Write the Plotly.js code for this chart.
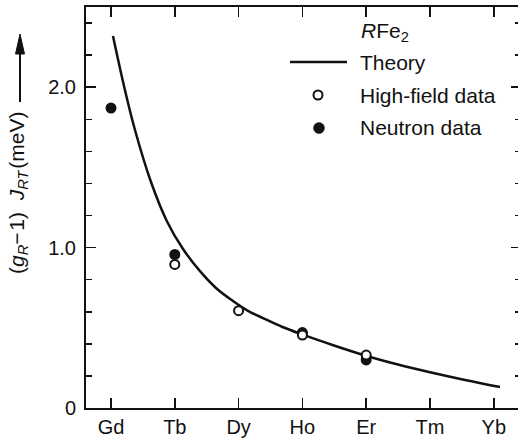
<!DOCTYPE html>
<html>
<head>
<meta charset="utf-8">
<script src="https://cdn.plot.ly/plotly-3.0.1.min.js"></script>
<style>
html, body { margin: 0; padding: 0; overflow: hidden; background: #fff; }
#chart { width: 521px; height: 439px; }
</style>
</head>
<body>
<div id="chart"></div>
<script>
// Categories (rare-earth elements R in RFe2)
const categories = ['Gd', 'Tb', 'Dy', 'Ho', 'Er', 'Tm', 'Yb'];

// Theory curve (x in category index units)
const theoryX = [0.031, 0.204, 0.376, 0.627, 0.878, 1.129, 1.395, 1.654, 1.912, 2.147, 2.382, 2.688, 2.994, 3.495, 3.997, 4.498, 5.0, 5.549, 6.097];
const theoryY = [2.319, 2.007, 1.733, 1.409, 1.163, 0.991, 0.853, 0.745, 0.667, 0.606, 0.561, 0.505, 0.459, 0.390, 0.326, 0.271, 0.223, 0.175, 0.131];

// High-field data (open circles)
const highFieldR = ['Tb', 'Dy', 'Ho', 'Er'];
const highFieldY = [0.895, 0.607, 0.455, 0.33];

// Neutron data (filled circles)
const neutronR = ['Gd', 'Tb', 'Ho', 'Er'];
const neutronY = [1.87, 0.957, 0.47, 0.30];

// y tick labels
const yTickVals = [0, 1, 2];
const yTickText = ['0', '1.0', '2.0'];

const idx = r => categories.indexOf(r);

// pixel -> paper helpers for the plot area (left 86, right 521, top 7, bottom 408)
const L = 86, R = 521, T = 7, B = 408;
const px = x => (x - L) / (R - L);
const py = y => (B - y) / (B - T);

const FONT = 'Liberation Sans, Arial, Helvetica, sans-serif';
const INK = '#111111';

const traces = [
  {
    x: theoryX, y: theoryY, type: 'scatter', mode: 'lines',
    line: { color: INK, width: 2.5, shape: 'spline', smoothing: 1 },
    name: 'Theory', hoverinfo: 'skip'
  },
  {
    x: neutronR.map(idx), y: neutronY, type: 'scatter', mode: 'markers',
    marker: { symbol: 'circle', size: 11, color: INK, line: { width: 0 } },
    name: 'Neutron data'
  },
  {
    x: highFieldR.map(idx), y: highFieldY, type: 'scatter', mode: 'markers',
    marker: { symbol: 'circle', size: 9, color: '#ffffff', line: { color: INK, width: 2 } },
    name: 'High-field data'
  }
];

const legendTextFont = { family: FONT, size: 21, color: INK };

const layout = {
  width: 521, height: 439,
  margin: { l: L, r: 0, t: T, b: 439 - B, pad: 0 },
  paper_bgcolor: '#ffffff', plot_bgcolor: '#ffffff',
  showlegend: false,
  font: { family: FONT, size: 20, color: INK },
  xaxis: {
    range: [(L - 111) / 63.8, (R - 111) / 63.8],
    tickvals: categories.map((c, i) => i),
    ticktext: categories,
    ticks: 'inside', ticklen: 10, tickwidth: 1.5, tickcolor: INK,
    showline: true, linewidth: 2, linecolor: INK, mirror: 'allticks',
    showgrid: false, zeroline: false,
    tickfont: { family: FONT, size: 20, color: INK },
    fixedrange: true
  },
  yaxis: {
    range: [0, 2.5],
    tickvals: yTickVals, ticktext: yTickText,
    ticks: 'inside', ticklen: 10, tickwidth: 1.5, tickcolor: INK,
    minor: { dtick: 0.2, tick0: 0, ticks: 'inside', ticklen: 6, tickwidth: 1.5, tickcolor: INK, showgrid: false },
    showline: true, linewidth: 2, linecolor: INK, mirror: 'allticks',
    showgrid: false, zeroline: false,
    tickfont: { family: FONT, size: 20, color: INK },
    ticklabelstandoff: 4,
    fixedrange: true
  },
  annotations: [
    {
      xref: 'paper', yref: 'paper', x: px(18), y: py(193),
      text: '(<i>g</i><sub><i>R</i></sub>\u2212\u200a1)\u00a0\u00a0<i>J</i><sub><i>RT</i></sub>\u200a(meV)',
      textangle: -90, showarrow: false, xanchor: 'center', yanchor: 'middle',
      font: { family: FONT, size: 21, color: INK }
    },
    {
      xref: 'paper', yref: 'paper', x: px(359), y: py(32),
      text: '<i>R</i>Fe<sub>2</sub>', showarrow: false, xanchor: 'left', yanchor: 'middle',
      font: legendTextFont
    },
    {
      xref: 'paper', yref: 'paper', x: px(358), y: py(62),
      text: 'Theory', showarrow: false, xanchor: 'left', yanchor: 'middle',
      font: legendTextFont
    },
    {
      xref: 'paper', yref: 'paper', x: px(358), y: py(95),
      text: 'High-field data', showarrow: false, xanchor: 'left', yanchor: 'middle',
      font: legendTextFont
    },
    {
      xref: 'paper', yref: 'paper', x: px(358), y: py(128),
      text: 'Neutron data', showarrow: false, xanchor: 'left', yanchor: 'middle',
      font: legendTextFont
    }
  ],
  shapes: [
    // y-label arrow shaft and head
    { type: 'line', xref: 'paper', yref: 'paper', x0: px(20), x1: px(20), y0: py(102), y1: py(50),
      line: { color: INK, width: 2 } },
    { type: 'path', xref: 'paper', yref: 'paper',
      path: `M ${px(20)} ${py(34)} L ${px(15.5)} ${py(54)} L ${px(24.5)} ${py(54)} Z`,
      fillcolor: INK, line: { color: INK, width: 1 } },
    // legend: theory line
    { type: 'line', xref: 'paper', yref: 'paper', x0: px(290), x1: px(347), y0: py(62), y1: py(62),
      line: { color: INK, width: 2.5 } },
    // legend: open circle
    { type: 'circle', xref: 'paper', yref: 'paper', x0: px(313.5), x1: px(322.5), y0: py(99.5), y1: py(90.5),
      fillcolor: '#ffffff', line: { color: INK, width: 2 } },
    // legend: filled circle
    { type: 'circle', xref: 'paper', yref: 'paper', x0: px(313.5), x1: px(324.5), y0: py(133.5), y1: py(122.5),
      fillcolor: INK, line: { color: INK, width: 0.5 } }
  ]
};

Plotly.newPlot('chart', traces, layout, { displayModeBar: false, staticPlot: true });
</script>
</body>
</html>
